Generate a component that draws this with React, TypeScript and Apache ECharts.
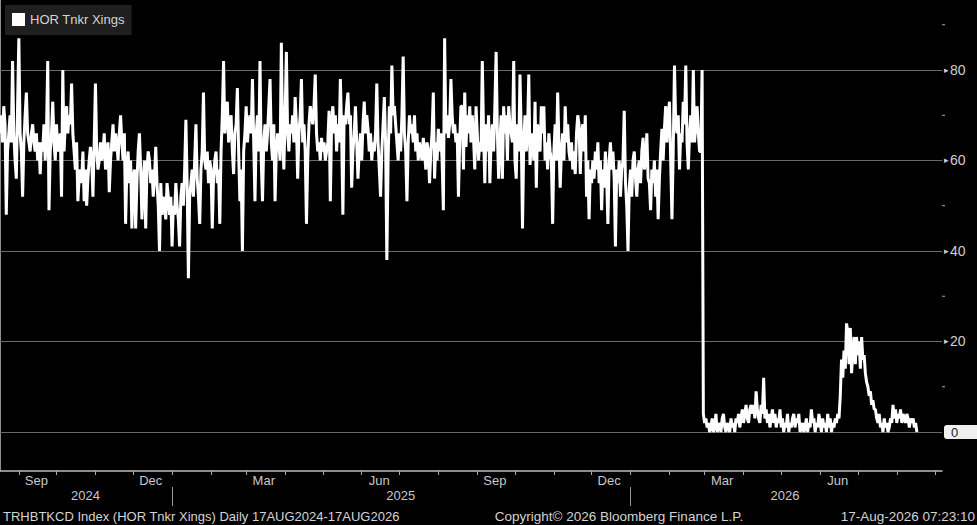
import * as echarts from 'echarts'
import { useEffect, useRef } from 'react'

const SERIES_NAME = 'HOR Tnkr Xings'
const START_DATE = '2024-08-17'
const AXIS_END = '2026-09-06'

// daily crossings, 17 Aug 2024 - 16 Feb 2025
const xingsAug24Feb25 = [
	66, 70, 64, 72, 68, 48, 62, 66, 70, 64, 82, 66, 60, 56, 72, 87,
	66, 62, 52, 64, 70, 75, 66, 64, 62, 66, 68, 64, 62, 66, 60, 64,
	57, 64, 62, 68, 60, 66, 82, 49, 62, 66, 73, 64, 60, 68, 62, 64,
	66, 52, 80, 62, 68, 72, 66, 70, 68, 77, 66, 62, 58, 64, 51, 56,
	58, 55, 62, 51, 58, 50, 56, 60, 63, 60, 52, 64, 77, 62, 58, 60,
	64, 60, 62, 66, 58, 62, 64, 53, 60, 64, 68, 62, 66, 64, 60, 66,
	70, 64, 60, 66, 46, 58, 62, 55, 60, 45, 56, 58, 45, 55, 62, 66,
	58, 47, 55, 60, 45, 58, 62, 60, 55, 58, 52, 56, 63, 55, 50, 40,
	55, 48, 52, 50, 47, 55, 52, 48, 52, 41, 50, 48, 55, 50, 47, 41,
	52, 55, 50, 58, 69, 55, 34, 52, 55, 58, 52, 60, 68, 56, 52, 46,
	58, 62, 75, 60, 58, 62, 55, 60, 58, 45, 56, 60, 62, 55, 58, 46,
	62, 70, 82, 66, 70, 73, 64, 68,
]

// 17 Feb 2025 - 19 Aug 2025
const xingsFeb25Aug25 = [
	70, 62, 57, 66, 68, 76, 62, 51, 58, 40, 62, 66, 72, 64, 68, 70,
	66, 78, 64, 51, 66, 70, 62, 82, 60, 51, 64, 68, 62, 66, 72, 78,
	64, 60, 68, 51, 62, 66, 64, 60, 86, 66, 58, 70, 84, 66, 62, 68,
	66, 70, 64, 74, 68, 56, 66, 70, 78, 64, 68, 62, 46, 60, 68, 72,
	70, 68, 72, 79, 66, 62, 64, 60, 65, 62, 64, 60, 62, 64, 71, 51,
	68, 72, 66, 70, 62, 68, 64, 78, 66, 48, 70, 68, 72, 75, 68, 70,
	54, 62, 66, 72, 64, 56, 62, 66, 60, 68, 73, 66, 70, 67, 62, 66,
	60, 64, 62, 66, 77, 64, 58, 52, 62, 68, 74, 64, 38, 60, 72, 66,
	81, 70, 72, 68, 64, 60, 66, 62, 70, 83, 66, 62, 51, 64, 70, 66,
	68, 64, 70, 62, 66, 60, 64, 62, 60, 65, 62, 58, 64, 62, 55, 62,
	66, 75, 56, 64, 60, 67, 62, 66, 60, 49, 87, 66, 70, 65, 68, 78,
	70, 66, 68, 64, 66, 52, 64, 72,
]

// 20 Aug 2025 - 27 Feb 2026
const xingsAug25Feb26 = [
	72, 58, 75, 63, 70, 66, 72, 64, 70, 65, 58, 72, 66, 60, 64, 62,
	82, 66, 55, 68, 62, 70, 55, 64, 68, 62, 72, 84, 66, 56, 64, 70,
	56, 72, 66, 70, 60, 72, 68, 66, 64, 82, 60, 56, 68, 62, 79, 66,
	45, 64, 70, 62, 66, 79, 59, 64, 66, 60, 73, 54, 68, 64, 62, 72,
	66, 72, 60, 64, 58, 66, 62, 60, 46, 62, 68, 60, 75, 64, 54, 62,
	66, 60, 72, 64, 68, 62, 60, 64, 58, 62, 57, 66, 70, 68, 57, 66,
	68, 62, 70, 52, 60, 47, 58, 55, 60, 56, 62, 58, 64, 55, 60, 49,
	58, 54, 62, 56, 46, 60, 64, 58, 62, 56, 41, 58, 55, 60, 52, 58,
	60, 71, 55, 50, 40, 54, 58, 52, 60, 62, 56, 52, 58, 60, 55, 62,
	65, 58, 60, 66, 56, 55, 49, 58, 55, 60, 52, 58, 47, 56, 62, 67,
	60, 67, 72, 64, 70, 73, 60, 47, 62, 81, 68, 66, 70, 58, 66, 64,
	73, 68, 81, 64, 58, 66, 70, 64, 80, 64, 68, 72, 66, 62, 62, 80,
]

// 28 Feb 2026 - 17 Aug 2026
const xingsFeb26Aug26 = [
	4, 2, 3, 1, 2, 0, 1, 3, 0, 1, 4, 0, 1, 2, 0, 3, 4, 1, 0, 2, 1, 0, 3, 1, 2, 0,
	3, 2, 4, 1, 3, 5, 2, 4, 6, 3, 2, 5, 6, 4, 6, 3, 9, 5, 3, 2, 6, 4, 12, 3, 5,
	2, 4, 1, 3, 5, 2, 4, 1, 3, 2, 5, 1, 3, 0, 2, 1, 4, 0, 2, 1,
	3, 4, 1, 3, 2, 4, 0, 1, 2, 0, 1, 3, 0, 2, 1, 5, 2, 3, 0, 2,
	1, 4, 2, 0, 3, 1, 2, 0, 4, 1, 3, 0, 2, 1, 3, 2, 4, 3, 8, 16,
	12, 18, 14, 24, 22, 15, 23, 13, 18, 21, 15, 21, 17, 20, 14, 21, 16, 17, 13, 11,
	10, 8, 9, 6, 7, 5, 5, 3, 2, 4, 1, 2, 0, 3, 1, 2, 0, 1, 3, 2,
	6, 3, 5, 2, 4, 3, 5, 2, 4, 3, 2, 4, 3, 1, 3, 2, 3, 1, 2, 0,
]

const GRID_LEVELS = [0, 20, 40, 60, 80]
const Y_LABELS = [0, 20, 40, 60, 80]
const Y_MINOR_TICKS = [10, 30, 50, 70, 90]
const MONTH_LABELS = [
	['2024-09-15', 'Sep'],
	['2024-12-15', 'Dec'],
	['2025-03-15', 'Mar'],
	['2025-06-15', 'Jun'],
	['2025-09-15', 'Sep'],
	['2025-12-15', 'Dec'],
	['2026-03-15', 'Mar'],
	['2026-06-15', 'Jun'],
]
const YEAR_LABELS = [
	['2024-10-24', '2024'],
	['2025-07-02', '2025'],
	['2026-05-04', '2026'],
]
const YEAR_BREAKS = ['2025-01-01', '2026-01-01']
const FOOTER_LEFT = 'TRHBTKCD Index (HOR Tnkr Xings) Daily 17AUG2024-17AUG2026'
const FOOTER_MID = 'Copyright\u00a9 2026 Bloomberg Finance L.P.'
const FOOTER_RIGHT = '17-Aug-2026 07:23:10'

const FONT = '"Liberation Sans", Arial, sans-serif'
const DAY = 86400000

const utc = (s: string) => {
	const [y, m, d] = s.split('-').map(Number)
	return Date.UTC(y, m - 1, d)
}
// day number counted from the first observation
const dayOf = (s: string) => Math.round((utc(s) - utc(START_DATE)) / DAY)

const App = () => {
	const chartRef = useRef<HTMLDivElement>(null)

	useEffect(() => {
		document.body.style.margin = '0'
		document.body.style.background = '#000'
		const myChart = echarts.init(chartRef.current, null, { renderer: 'svg' })

		const values = [...xingsAug24Feb25, ...xingsFeb25Aug25, ...xingsAug25Feb26, ...xingsFeb26Aug26]
		const data = values.map((v, i) => [i, v])

		// month starts for the small ticks on the date axis
		const monthTicks: number[] = []
		for (let k = 0; k <= 24; k++) {
			monthTicks.push(Math.round((Date.UTC(2024, 8 + k, 1) - utc(START_DATE)) / DAY))
		}

		const monthText = new Map(MONTH_LABELS.map(([d, t]) => [dayOf(d), t]))
		const yearText = new Map(YEAR_LABELS.map(([d, t]) => [dayOf(d), t]))
		const xMax = dayOf(AXIS_END)

		const footer = [
			{
				type: 'text',
				x: 3,
				y: 516,
				style: { text: FOOTER_LEFT, fill: '#d4d4d4', font: `13px ${FONT}`, verticalAlign: 'middle' },
			},
			{
				type: 'text',
				x: 619,
				y: 516,
				style: {
					text: FOOTER_MID,
					fill: '#d4d4d4',
					font: `13.5px ${FONT}`,
					align: 'center',
					verticalAlign: 'middle',
				},
			},
			{
				type: 'text',
				x: 975,
				y: 516,
				style: {
					text: FOOTER_RIGHT,
					fill: '#d4d4d4',
					font: `13.5px ${FONT}`,
					align: 'right',
					verticalAlign: 'middle',
				},
			},
		]

		const option = {
			animation: false,
			backgroundColor: '#000',
			textStyle: { fontFamily: FONT },
			grid: { left: 0, right: 35, top: 0, bottom: 54, outerBoundsMode: 'none' },
			legend: {
				left: 5,
				top: 5,
				padding: [8, 7, 9, 7],
				backgroundColor: '#1f1f1f',
				icon: 'rect',
				itemWidth: 13,
				itemHeight: 13,
				itemGap: 10,
				data: [SERIES_NAME],
				textStyle: { color: '#d4d4d4', fontSize: 13, fontFamily: FONT },
			},
			xAxis: [
				{
					type: 'value',
					min: 0,
					max: xMax,
					axisLine: { onZero: false, lineStyle: { color: '#bdbdbd', width: 1.5 } },
					axisTick: { customValues: monthTicks, length: 4, lineStyle: { color: '#aaa' } },
					axisLabel: {
						customValues: MONTH_LABELS.map(([d]) => dayOf(d)),
						formatter: (v: number) => monthText.get(v) ?? '',
						color: '#c8c8c8',
						fontSize: 13,
						fontFamily: FONT,
						margin: 3,
					},
					splitLine: { show: false },
				},
				{
					type: 'value',
					min: 0,
					max: xMax,
					position: 'bottom',
					offset: 16,
					axisLine: { show: false, onZero: false },
					axisTick: {
						customValues: YEAR_BREAKS.map(dayOf),
						length: 19,
						lineStyle: { color: '#9a9a9a' },
					},
					axisLabel: {
						customValues: YEAR_LABELS.map(([d]) => dayOf(d)),
						formatter: (v: number) => yearText.get(v) ?? '',
						color: '#c8c8c8',
						fontSize: 13,
						fontFamily: FONT,
						margin: 2,
					},
					splitLine: { show: false },
				},
			],
			yAxis: {
				type: 'value',
				position: 'right',
				min: -8.62,
				max: 95.47,
				axisLine: { show: true, lineStyle: { color: '#bdbdbd', width: 1.5 } },
				axisTick: { show: false },
				splitLine: { show: false },
				axisLabel: {
					customValues: Y_LABELS,
					margin: 2,
					color: '#d0d0d0',
					fontSize: 14,
					fontFamily: FONT,
					formatter: (v: number) => (v === 0 ? '{tag|0}' : '{tri|\u25b8}' + v),
					rich: {
						tri: { fontSize: 9, color: '#cfcfcf', padding: [0, 1, 0, 0] },
						tag: {
							backgroundColor: '#efefef',
							color: '#1a1a1a',
							fontSize: 13,
							padding: [1, 22, 0, 7],
							borderRadius: 3,
						},
					},
				},
			},
			series: [
				{
					name: SERIES_NAME,
					type: 'line',
					data: data,
					showSymbol: false,
					symbol: 'none',
					itemStyle: { color: '#ffffff' },
					lineStyle: { color: '#ffffff', width: 3 },
					z: 3,
					markLine: {
						silent: true,
						z: 1,
						symbol: ['none', 'none'],
						label: { show: false },
						lineStyle: { color: '#6a6a6a', width: 1, type: 'solid' },
						emphasis: { disabled: true },
						data: GRID_LEVELS.map((v) => ({ yAxis: v })),
					},
				},
			],
			graphic: footer,
		}

		myChart.setOption(option)

		// minor ticks on the value axis, placed through the axis scale
		const axisX = myChart.convertToPixel({ xAxisIndex: 0 }, xMax) as number
		const minorTicks = Y_MINOR_TICKS.map((v) => {
			const y = myChart.convertToPixel({ yAxisIndex: 0 }, v) as number
			return {
				type: 'line',
				silent: true,
				shape: { x1: axisX, y1: y, x2: axisX + 3, y2: y },
				style: { stroke: '#aaaaaa', lineWidth: 1 },
			}
		})
		myChart.setOption({ graphic: [...footer, ...minorTicks] })

		return () => {
			myChart.dispose()
		}
	}, [])

	return <div ref={chartRef} style={{ width: '977px', height: '525px' }} />
}

export default App
